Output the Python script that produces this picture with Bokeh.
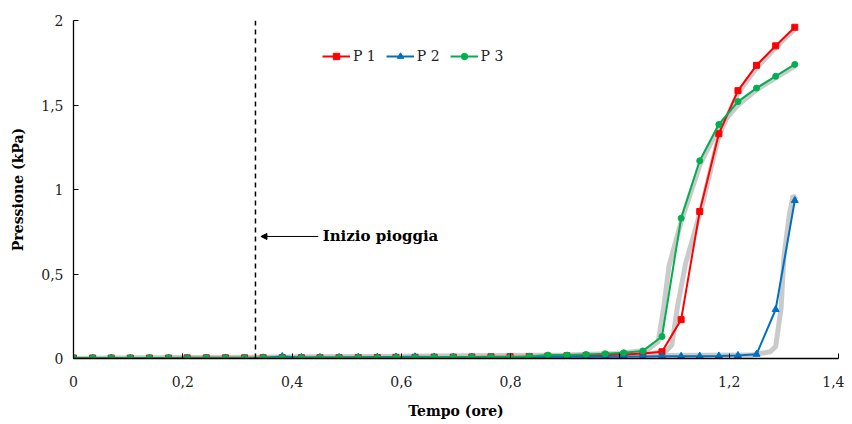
from bokeh.plotting import figure
from bokeh.models import (Range1d, FixedTicker, CustomJSTickFormatter, Legend, LegendItem,
                          Arrow, NormalHead, Span, Label)
from bokeh.embed import file_html
from bokeh.resources import INLINE

# ---- data ----
time_h = [0.000, 0.035, 0.069, 0.104, 0.139, 0.174, 0.208, 0.243, 0.278, 0.313,
          0.347, 0.382, 0.417, 0.451, 0.486, 0.521, 0.556, 0.590, 0.625, 0.660,
          0.695, 0.729, 0.764, 0.799, 0.834, 0.868, 0.903, 0.938, 0.973, 1.007,
          1.042, 1.077, 1.112, 1.146, 1.181, 1.216, 1.250, 1.285, 1.320]

p1 = [0.003, 0.003, 0.003, 0.003, 0.003, 0.003, 0.004, 0.004, 0.004, 0.004,
      0.005, 0.005, 0.005, 0.005, 0.005, 0.006, 0.006, 0.007, 0.007, 0.008,
      0.008, 0.009, 0.010, 0.011, 0.012, 0.014, 0.016, 0.018, 0.020, 0.024,
      0.030, 0.040, 0.230, 0.870, 1.330, 1.585, 1.735, 1.850, 1.960]

p2 = [0.002, 0.002, 0.002, 0.002, 0.002, 0.003, 0.003, 0.003, 0.003, 0.003,
      0.004, 0.012, 0.006, 0.006, 0.006, 0.007, 0.008, 0.009, 0.010, 0.009,
      0.008, 0.008, 0.008, 0.009, 0.009, 0.010, 0.010, 0.010, 0.011, 0.012,
      0.012, 0.013, 0.013, 0.014, 0.015, 0.018, 0.025, 0.290, 0.935]

p3 = [0.003, 0.003, 0.003, 0.003, 0.003, 0.003, 0.003, 0.003, 0.003, 0.003,
      0.004, 0.004, 0.004, 0.004, 0.005, 0.005, 0.005, 0.006, 0.006, 0.007,
      0.007, 0.007, 0.008, 0.008, 0.012, 0.020, 0.020, 0.024, 0.028, 0.034,
      0.045, 0.130, 0.830, 1.170, 1.385, 1.520, 1.600, 1.670, 1.740]

# raw (unsmoothed) traces shown in grey behind the series
raw1_t = [0.000, 0.800, 1.000, 1.060, 1.085, 1.095, 1.105, 1.120, 1.150, 1.181, 1.216, 1.250, 1.285, 1.320]
raw1_v = [0.000, 0.010, 0.020, 0.030, 0.045, 0.080, 0.300, 0.560, 0.900, 1.320, 1.570, 1.720, 1.840, 1.950]
raw2_t = [0.000, 1.240, 1.275, 1.285, 1.295, 1.300, 1.310, 1.317, 1.322]
raw2_v = [0.000, 0.020, 0.040, 0.070, 0.300, 0.600, 0.850, 0.965, 0.940]
raw3_t = [0.000, 0.900, 1.000, 1.050, 1.070, 1.080, 1.090, 1.112, 1.147, 1.181, 1.216, 1.250, 1.285, 1.320]
raw3_v = [0.000, 0.020, 0.030, 0.050, 0.100, 0.300, 0.550, 0.810, 1.150, 1.370, 1.500, 1.590, 1.660, 1.730]

rain_start = 0.333
annotation = "Inizio pioggia"
series_names = ["P 1", "P 2", "P 3"]

x_ticks = [0, 0.2, 0.4, 0.6, 0.8, 1.0, 1.2, 1.4]
x_labels = ["0", "0,2", "0,4", "0,6", "0,8", "1", "1,2", "1,4"]
y_ticks = [0, 0.5, 1.0, 1.5, 2.0]
y_labels = ["0", "0,5", "1", "1,5", "2"]

SERIF = "DejaVu Serif"

p = figure(width=844, height=424, output_backend="svg", toolbar_location=None,
           x_range=Range1d(0, 1.4), y_range=Range1d(0, 2),
           min_border_left=73, min_border_right=6, min_border_top=20, min_border_bottom=66)
p.outline_line_color = None
p.grid.visible = False
p.background_fill_color = "white"
p.border_fill_color = "white"

fmt_code = """
let best = 0, bd = 1e9;
for (let i = 0; i < tvals.length; i++) { const d = Math.abs(tvals[i] - tick); if (d < bd) { bd = d; best = i; } }
return tlabels[best];
"""
p.xaxis.ticker = FixedTicker(ticks=x_ticks)
p.xaxis.formatter = CustomJSTickFormatter(args=dict(tvals=x_ticks, tlabels=x_labels), code=fmt_code)
p.yaxis.ticker = FixedTicker(ticks=y_ticks)
p.yaxis.formatter = CustomJSTickFormatter(args=dict(tvals=y_ticks, tlabels=y_labels), code=fmt_code)

for ax in (p.xaxis[0], p.yaxis[0]):
    ax.axis_line_color = "black"
    ax.axis_line_width = 1.3
    ax.major_label_text_font = SERIF
    ax.major_label_text_font_size = "14px"
    ax.major_label_text_color = "#222222"
    ax.axis_label_text_font = SERIF
    ax.axis_label_text_font_style = "bold"
    ax.axis_label_text_font_size = "14px"
    ax.axis_label_text_color = "black"
    ax.minor_tick_line_color = None
    ax.major_tick_in = 5
    ax.major_tick_out = 0
    ax.major_tick_line_color = "black"

p.xaxis.axis_label = "Tempo (ore)"
p.xaxis.major_label_standoff = 17
p.xaxis.axis_label_standoff = 13

p.yaxis.axis_label = "Pressione (kPa)"
p.yaxis.major_label_standoff = 10
p.yaxis.axis_label_standoff = 12

# grey raw traces
for tt, vv in ((raw1_t, raw1_v), (raw2_t, raw2_v), (raw3_t, raw3_v)):
    p.line(tt, vv, line_color="#c4c4c4", line_width=5, line_alpha=0.9)

colors = ["#ff0000", "#0070c0", "#00b050"]
markers = ["square", "triangle", "circle"]
sizes = [6, 7, 6]
items = []
for vals, name, col, mk, sz in zip((p1, p2, p3), series_names, colors, markers, sizes):
    ln = p.line(time_h, vals, line_color=col, line_width=2)
    sc = p.scatter(time_h, vals, marker=mk, size=sz, fill_color=col, line_color=col)
    items.append(LegendItem(label=name, renderers=[ln, sc]))

legend = Legend(items=items, orientation="horizontal", location=(249, 294),
                border_line_color=None, background_fill_alpha=0,
                label_text_font=SERIF, label_text_font_size="14px",
                label_text_color="#222222",
                label_standoff=3, glyph_width=28, glyph_height=16,
                spacing=10, padding=2, margin=0)
p.add_layout(legend)

p.add_layout(Span(location=rain_start, dimension="height", line_color="black",
                  line_width=1.5, line_dash="5 4"))

p.add_layout(Arrow(end=NormalHead(size=6, fill_color="black", line_color="black"),
                   x_start=0.448, y_start=0.722, x_end=0.343, y_end=0.722,
                   line_color="black", line_width=1))
p.add_layout(Label(x=0.456, y=0.722, text=annotation, text_baseline="middle",
                   text_font=SERIF, text_font_style="bold", text_font_size="15px",
                   text_color="black"))

open("out.html", "w").write(file_html(p, INLINE))
